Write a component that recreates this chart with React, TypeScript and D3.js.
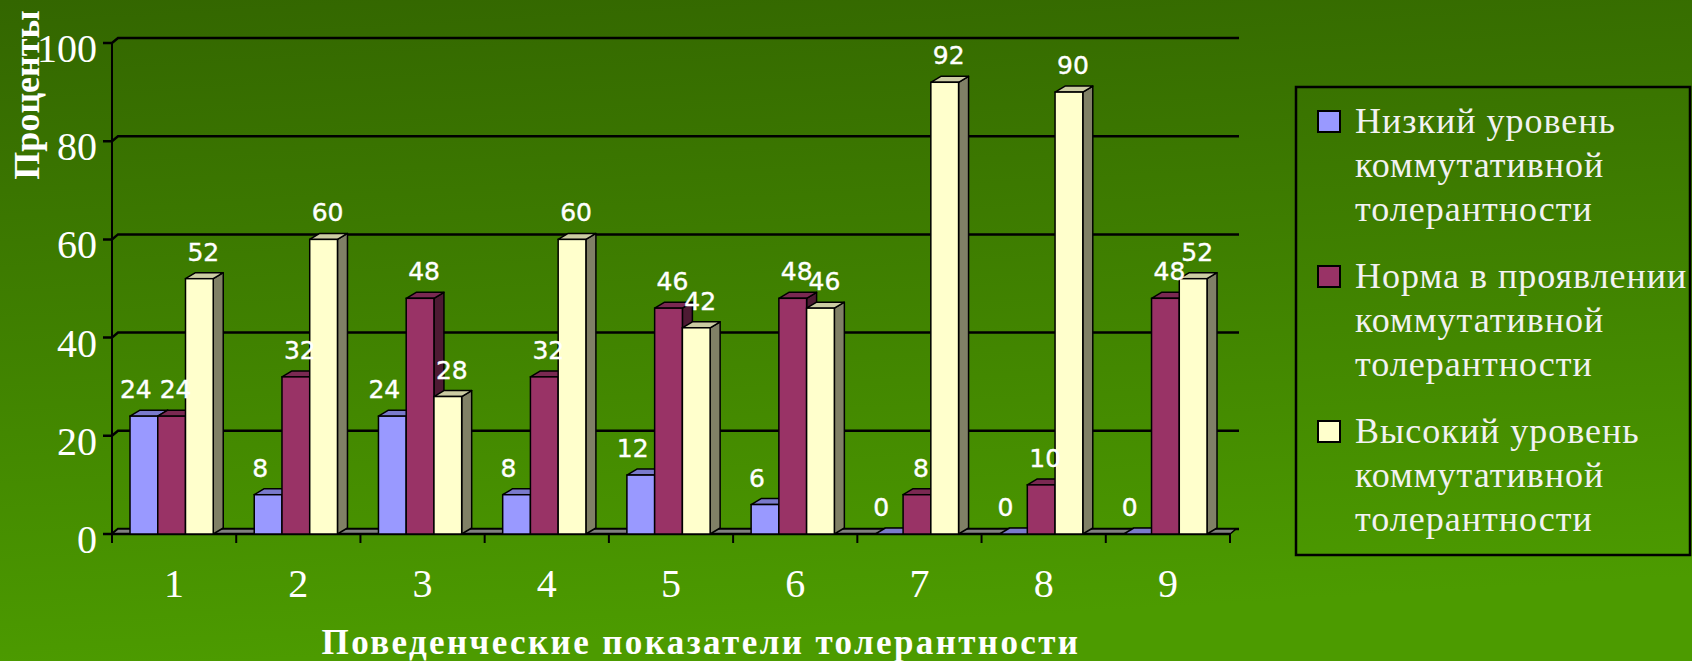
import * as d3 from "d3";
import React, { useEffect, useRef } from "react";

// данные диаграммы
const categories = ["1", "2", "3", "4", "5", "6", "7", "8", "9"];
const lowLevel = [24, 8, 24, 8, 12, 6, 0, 0, 0];
const normLevel = [24, 32, 48, 32, 46, 48, 8, 10, 48];
const highLevel = [52, 60, 28, 60, 42, 46, 92, 90, 52];
const yTicks = [0, 20, 40, 60, 80, 100];
const seriesNames = [
  ["Низкий уровень", "коммутативной", "толерантности"],
  ["Норма в проявлении", "коммутативной", "толерантности"],
  ["Высокий уровень", "коммутативной", "толерантности"],
];
const yTitle = "Проценты";
const xTitle = "Поведенческие показатели толерантности";

// цвета: передняя грань, верх, бок
const colors = [
  { front: "#9999ff", top: "#7a7acc", side: "#4d4d80" },
  { front: "#993366", top: "#7a2952", side: "#4d1a33" },
  { front: "#ffffcc", top: "#cccca3", side: "#808066" },
];
// сдвиг подписей по горизонтали для каждого ряда
const labelShift = [-8, 4, 4];

const serif = "'Liberation Serif', 'Times New Roman', serif";

export default function App() {
  const ref = useRef<SVGSVGElement | null>(null);

  useEffect(() => {
    drawChart();
  }, []);

  function drawChart() {
    const width = 1692,
      height = 661;
    const left = 112,
      right = 1230,
      top = 43,
      bottom = 534;
    const wall = { dx: 6, dy: -5 };
    const depth = { dx: 10, dy: -6 };

    const svg = d3.select(ref.current);
    svg.selectAll("*").remove();

    // фон
    const defs = svg.append("defs");
    const grad = defs
      .append("linearGradient")
      .attr("id", "bg")
      .attr("x1", 0)
      .attr("y1", 0)
      .attr("x2", 0.15)
      .attr("y2", 1);
    grad.append("stop").attr("offset", "0%").attr("stop-color", "#336600");
    grad.append("stop").attr("offset", "100%").attr("stop-color", "#4c9b00");
    svg
      .append("rect")
      .attr("width", width)
      .attr("height", height)
      .attr("fill", "url(#bg)");

    const yScale = d3.scaleLinear().domain([0, 100]).range([bottom, top]);
    const x0 = d3.scaleBand().domain(categories).range([left, right]).padding(0);
    const bw = x0.bandwidth();
    const x1 = d3
      .scaleBand()
      .domain(["0", "1", "2"])
      .range([bw * 0.145, bw * 0.815])
      .padding(0);

    // сетка на задней стенке
    const grid = svg.append("g");
    yTicks.forEach(function (t) {
      const y = yScale(t);
      grid
        .append("path")
        .attr(
          "d",
          "M" + (left - 9) + "," + y + "H" + left +
            "L" + (left + wall.dx) + "," + (y + wall.dy) +
            "H" + (right + wall.dx + 3)
        )
        .attr("fill", "none")
        .attr("stroke", "black")
        .attr("stroke-width", 2.5);
      grid
        .append("text")
        .attr("x", 97)
        .attr("y", y + 19)
        .attr("text-anchor", "end")
        .attr("font-family", serif)
        .attr("font-size", "40px")
        .attr("fill", "white")
        .text(t);
    });

    // ось Y
    svg
      .append("line")
      .attr("x1", left)
      .attr("x2", left)
      .attr("y1", yScale(100))
      .attr("y2", bottom)
      .attr("stroke", "black")
      .attr("stroke-width", 2);

    // пол
    svg
      .append("path")
      .attr(
        "d",
        "M" + left + "," + bottom + "H" + right +
          "L" + (right + wall.dx) + "," + (bottom + wall.dy) +
          "H" + (left + wall.dx) + "Z"
      )
      .attr("fill", "#808080")
      .attr("stroke", "black")
      .attr("stroke-width", 1.5);

    // ось X и деления
    svg
      .append("line")
      .attr("x1", left)
      .attr("x2", right)
      .attr("y1", bottom)
      .attr("y2", bottom)
      .attr("stroke", "black")
      .attr("stroke-width", 2.5);
    const ticksX = categories.map((c) => x0(c) as number).concat([right]);
    svg
      .selectAll(".xtick")
      .data(ticksX)
      .enter()
      .append("line")
      .attr("class", "xtick")
      .attr("x1", (d) => d)
      .attr("x2", (d) => d)
      .attr("y1", bottom)
      .attr("y2", bottom + 9)
      .attr("stroke", "black")
      .attr("stroke-width", 2);

    svg
      .selectAll(".xlab")
      .data(categories)
      .enter()
      .append("text")
      .attr("class", "xlab")
      .attr("x", (d) => (x0(d) as number) + bw / 2)
      .attr("y", 597)
      .attr("text-anchor", "middle")
      .attr("font-family", serif)
      .attr("font-size", "40px")
      .attr("fill", "white")
      .text((d) => d);

    // столбцы
    const series = [lowLevel, normLevel, highLevel];
    const labels: { x: number; y: number; v: number }[] = [];
    categories.forEach(function (c, i) {
      series.forEach(function (vals, s) {
        const v = vals[i];
        const bx = (x0(c) as number) + (x1(String(s)) as number);
        const w = x1.bandwidth();
        const yt = yScale(v);
        const g = svg.append("g");
        const col = colors[s];
        g.append("path")
          .attr(
            "d",
            "M" + (bx + w) + "," + bottom +
              "L" + (bx + w + depth.dx) + "," + (bottom + depth.dy) +
              "V" + (yt + depth.dy) +
              "L" + (bx + w) + "," + yt + "Z"
          )
          .attr("fill", col.side)
          .attr("stroke", "black")
          .attr("stroke-width", 1.5)
          .attr("stroke-linejoin", "round");
        g.append("path")
          .attr(
            "d",
            "M" + bx + "," + yt +
              "L" + (bx + depth.dx) + "," + (yt + depth.dy) +
              "H" + (bx + w + depth.dx) +
              "L" + (bx + w) + "," + yt + "Z"
          )
          .attr("fill", col.top)
          .attr("stroke", "black")
          .attr("stroke-width", 1.5)
          .attr("stroke-linejoin", "round");
        if (v > 0) {
          g.append("rect")
            .attr("x", bx)
            .attr("y", yt)
            .attr("width", w)
            .attr("height", bottom - yt)
            .attr("fill", col.front)
            .attr("stroke", "black")
            .attr("stroke-width", 1.5);
        }
        labels.push({ x: bx + w / 2 + labelShift[s], y: yt - 18, v: v });
      });
    });

    // подписи значений
    svg
      .selectAll(".vlab")
      .data(labels)
      .enter()
      .append("text")
      .attr("class", "vlab")
      .attr("x", (d) => d.x)
      .attr("y", (d) => d.y)
      .attr("text-anchor", "middle")
      .attr("font-family", "'DejaVu Sans', Verdana, sans-serif")
      .attr("font-size", "25px")
      .attr("stroke", "white")
      .attr("stroke-width", 0.4)
      .attr("fill", "white")
      .text((d) => d.v);

    // заголовки осей
    svg
      .append("text")
      .attr("transform", "translate(39,95) rotate(-90)")
      .attr("text-anchor", "middle")
      .attr("font-family", serif)
      .attr("font-weight", "bold")
      .attr("font-size", "36px")
      .attr("fill", "white")
      .text(yTitle);

    svg
      .append("text")
      .attr("x", 701)
      .attr("y", 654)
      .attr("text-anchor", "middle")
      .attr("font-family", serif)
      .attr("font-weight", "bold")
      .attr("font-size", "35px")
      .attr("letter-spacing", "2.4px")
      .attr("fill", "white")
      .text(xTitle);

    // легенда
    const legend = svg.append("g");
    legend
      .append("rect")
      .attr("x", 1296)
      .attr("y", 87)
      .attr("width", 394)
      .attr("height", 468)
      .attr("fill", "none")
      .attr("stroke", "black")
      .attr("stroke-width", 2.5);
    seriesNames.forEach(function (lines, s) {
      const base = 133 + s * 155;
      legend
        .append("rect")
        .attr("x", 1318)
        .attr("y", base - 22)
        .attr("width", 22)
        .attr("height", 21)
        .attr("fill", colors[s].front)
        .attr("stroke", "black")
        .attr("stroke-width", 2);
      lines.forEach(function (line, k) {
        legend
          .append("text")
          .attr("x", 1355)
          .attr("y", base + k * 44)
          .attr("font-family", serif)
          .attr("font-size", "36px")
          .attr("letter-spacing", "1px")
          .attr("fill", "#f2f2f2")
          .text(line);
      });
    });
  }

  return (
    <svg
      ref={ref}
      width={1692}
      height={661}
      style={{ position: "absolute", left: 0, top: 0, display: "block" }}
    />
  );
}
